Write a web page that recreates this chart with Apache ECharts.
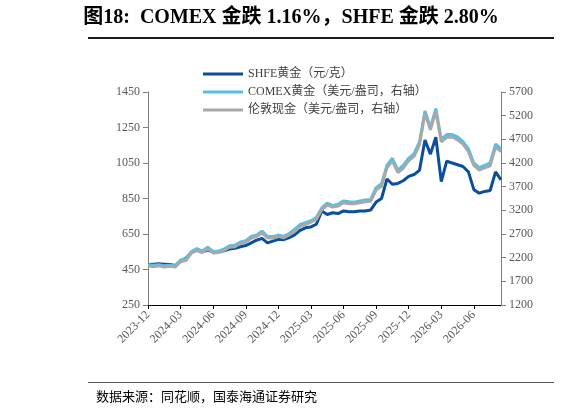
<!DOCTYPE html>
<html><head><meta charset="utf-8">
<script src="https://cdn.jsdelivr.net/npm/echarts@6/dist/echarts.min.js"></script>
<style>body{margin:0;background:#fff}#c{width:582px;height:418px}</style>
</head><body><div id="c"></div>
<script>
const months = ['2023-12','2024-01','2024-02','2024-03','2024-04','2024-05','2024-06','2024-07','2024-08','2024-09','2024-10','2024-11','2024-12','2025-01','2025-02','2025-03','2025-04','2025-05','2025-06','2025-07','2025-08','2025-09','2025-10','2025-11','2025-12','2026-01','2026-02','2026-03','2026-04','2026-05','2026-06','2026-07','2026-08'];
const categories = [];
months.forEach(m => { categories.push(m + '-01'); categories.push(m + '-16'); });
const shfe = [478,480,482,480,478,472,495,515,545,560,550,560,550,548,555,565,570,578,585,600,615,625,600,610,620,618,630,645,670,685,690,705,780,760,770,765,780,775,775,780,780,785,830,850,960,930,935,950,975,985,1010,1180,1100,1195,945,1060,1050,1040,1030,1000,900,880,890,895,1000,955];
const comex = [2050,2040,2050,2030,2040,2030,2150,2180,2330,2390,2340,2420,2330,2340,2380,2450,2460,2530,2560,2650,2680,2760,2650,2640,2680,2650,2710,2800,2900,2940,2980,3050,3250,3350,3300,3330,3400,3380,3370,3400,3420,3430,3680,3760,4150,4300,4050,4150,4300,4400,4650,5300,4950,5350,4700,4800,4800,4750,4650,4500,4200,4100,4150,4200,4600,4500];
const london = [2030,2010,2030,2000,2020,2000,2120,2140,2300,2350,2310,2390,2300,2310,2350,2420,2430,2500,2530,2610,2650,2720,2620,2610,2650,2620,2680,2760,2860,2900,2950,3010,3210,3310,3270,3290,3360,3340,3340,3360,3380,3390,3630,3710,4100,4240,4000,4090,4250,4340,4590,5250,4900,5290,4650,4740,4750,4690,4600,4440,4150,4050,4100,4140,4540,4440];
const quarterTicks = ['2023-12','2024-03','2024-06','2024-09','2024-12','2025-03','2025-06','2025-09','2025-12','2026-03','2026-06'];
const font = '"Times New Roman","Liberation Serif",serif';
const chart = echarts.init(document.getElementById('c'));
chart.setOption({
  animation:false,
  graphic:[
    {type:'text',left:'center',top:8,style:{text:'图18:  COMEX 金跌 1.16%，SHFE 金跌 2.80%',font:'bold 20px "Liberation Serif","Noto Sans CJK SC",serif',fill:'#000'}},
    {type:'rect',shape:{x:88,y:37,width:466,height:2},style:{fill:'#1a1a1a'}},
    {type:'rect',shape:{x:88,y:382,width:466,height:1},style:{fill:'#555'}},
    {type:'text',left:96,top:390,style:{text:'数据来源：同花顺，国泰海通证券研究',font:'13px "Noto Sans CJK SC",serif',fill:'#000'}}
  ],
  legend:{orient:'vertical',left:198,top:63,itemWidth:40,itemHeight:3,itemGap:6,icon:'rect',
    textStyle:{fontFamily:font+',"Noto Sans CJK SC"',fontSize:12,color:'#404040'},
    data:['SHFE黄金（元/克）','COMEX黄金（美元/盎司，右轴）','伦敦现金（美元/盎司，右轴）']},
  grid:{left:148,right:81,top:92,bottom:113},
  xAxis:{type:'category',data:categories,boundaryGap:false,
    axisLine:{lineStyle:{color:'#000'}},
    axisTick:{interval:(i,v)=>v.endsWith('-01')&&quarterTicks.includes(v.slice(0,7)),length:4,lineStyle:{color:'#000'}},
    axisLabel:{interval:(i,v)=>v.endsWith('-01')&&quarterTicks.includes(v.slice(0,7)),rotate:45,formatter:v=>v.slice(0,7),fontFamily:font,fontSize:12,color:'#595959'}},
  yAxis:[
    {type:'value',min:250,max:1450,interval:200,splitLine:{show:false},
     axisLine:{show:true,lineStyle:{color:'#7f7f7f'}},axisTick:{show:true,lineStyle:{color:'#7f7f7f'}},
     axisLabel:{formatter:v=>String(v),fontFamily:font,fontSize:12,color:'#595959'}},
    {type:'value',min:1200,max:5700,interval:500,splitLine:{show:false},
     axisLine:{show:true,lineStyle:{color:'#7f7f7f'}},axisTick:{show:true,lineStyle:{color:'#7f7f7f'}},
     axisLabel:{formatter:v=>String(v),fontFamily:font,fontSize:12,color:'#595959'}}
  ],
  series:[
    {name:'SHFE黄金（元/克）',type:'line',data:shfe,showSymbol:false,lineStyle:{width:3,color:'#0b4f9c'},itemStyle:{color:'#0b4f9c'}},
    {name:'COMEX黄金（美元/盎司，右轴）',type:'line',yAxisIndex:1,data:comex,showSymbol:false,lineStyle:{width:3,color:'#4fc1ee'},itemStyle:{color:'#4fc1ee'}},
    {name:'伦敦现金（美元/盎司，右轴）',type:'line',yAxisIndex:1,data:london,showSymbol:false,lineStyle:{width:3,color:'#a8a8a8'},itemStyle:{color:'#a8a8a8'}}
  ]
});
</script></body></html>
